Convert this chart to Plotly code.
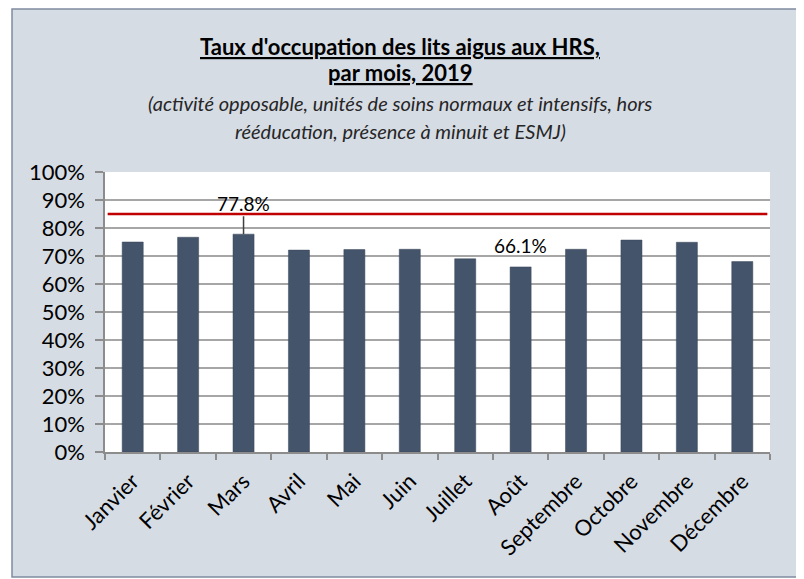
import plotly.graph_objects as go

months = ["Janvier", "Février", "Mars", "Avril", "Mai", "Juin", "Juillet",
          "Août", "Septembre", "Octobre", "Novembre", "Décembre"]
occupancy = [0.750, 0.767, 0.778, 0.721, 0.723, 0.724, 0.690,
             0.661, 0.724, 0.757, 0.749, 0.680]
target = 0.85
y_ticks = [0, 0.1, 0.2, 0.3, 0.4, 0.5, 0.6, 0.7, 0.8, 0.9, 1.0]
label_max = ("Mars", 0.778, "77.8%")
label_min = ("Août", 0.661, "66.1%")

title_1 = "Taux d'occupation des lits aigus aux HRS,"
title_2 = "par mois, 2019"
sub_1 = "(activité opposable, unités de soins normaux et intensifs, hors"
sub_2 = "rééducation, présence à minuit et ESMJ)"

# page body has an 8px default margin
OFF = 8
W, H = 804 - OFF, 579 - OFF
L, R, T, B = 105, 770, 172, 452          # plot area in screen pixels
pw, ph = R - L, B - T

def px(x):
    return (x - L) / pw

def py(y):
    return (B - y) / ph

FONT = "Lato"

fig = go.Figure()
fig.add_trace(go.Bar(
    x=months, y=occupancy,
    marker=dict(color="#44546A", line=dict(color="#3A475A", width=0.5)),
    hoverinfo="skip",
))

shapes = [
    dict(type="rect", xref="paper", yref="paper", layer="below",
         x0=px(12), x1=px(799), y0=py(577), y1=py(9),
         fillcolor="#D6DCE4", line=dict(color="#7F8CA0", width=1.5)),
    dict(type="rect", xref="paper", yref="paper", layer="below",
         x0=0, x1=1, y0=0, y1=1, fillcolor="white", line=dict(width=0)),
    dict(type="line", xref="paper", yref="y", layer="above",
         x0=0.004, x1=0.996, y0=target, y1=target,
         line=dict(color="#C00000", width=2.5)),
]

cx = px(400)
def head(text, y, size, color="#000"):
    return dict(text=text, x=cx, y=py(y), xref="paper", yref="paper",
                xanchor="center", yanchor="middle", showarrow=False,
                font=dict(family=FONT, size=size, color=color))

annotations = [
    head(f"<b><u>{title_1}</u></b>", 46, 22),
    head(f"<b><u>{title_2}</u></b>", 73, 22),
    head(f"<i>{sub_1}</i>", 103, 20, "#262626"),
    head(f"<i>{sub_2}</i>", 131, 20, "#262626"),
    dict(text=label_max[2], x=label_max[0], y=label_max[1], xref="x", yref="y",
         showarrow=True, arrowhead=0, arrowwidth=1.5, arrowcolor="#404040",
         ax=0, ay=-31, standoff=0,
         font=dict(family=FONT, size=19, color="#000")),
    dict(text=label_min[2], x=label_min[0], y=label_min[1], xref="x", yref="y",
         showarrow=False, yanchor="bottom", yshift=8,
         font=dict(family=FONT, size=19, color="#000")),
]

fig.update_layout(
    width=W, height=H,
    margin=dict(l=L - OFF, r=W - (R - OFF), t=T - OFF, b=H - (B - OFF), pad=0),
    paper_bgcolor="white", plot_bgcolor="white",
    bargap=0.62, showlegend=False,
    shapes=shapes, annotations=annotations,
    font=dict(family=FONT, size=20, color="#000"),
    xaxis=dict(
        type="category", tickangle=-45, tickson="boundaries",
        ticks="outside", ticklen=6, tickcolor="#8C8C8C", tickwidth=1.5,
        showline=True, linecolor="#8C8C8C", linewidth=1.5,
        showgrid=False, ticklabelstandoff=6,
        tickfont=dict(family=FONT, size=22, color="#000"),
        fixedrange=True,
    ),
    yaxis=dict(
        range=[0, 1.0], tickvals=y_ticks, tickformat=".0%",
        ticks="outside", ticklen=8, tickcolor="#8C8C8C", tickwidth=1.5,
        showline=True, linecolor="#8C8C8C", linewidth=1.5,
        showgrid=True, gridcolor="#A6A6A6", gridwidth=1.5,
        zeroline=False, ticklabelstandoff=6,
        tickfont=dict(family=FONT, size=22, color="#000"),
        fixedrange=True,
    ),
)

fig.write_html("out.html")
